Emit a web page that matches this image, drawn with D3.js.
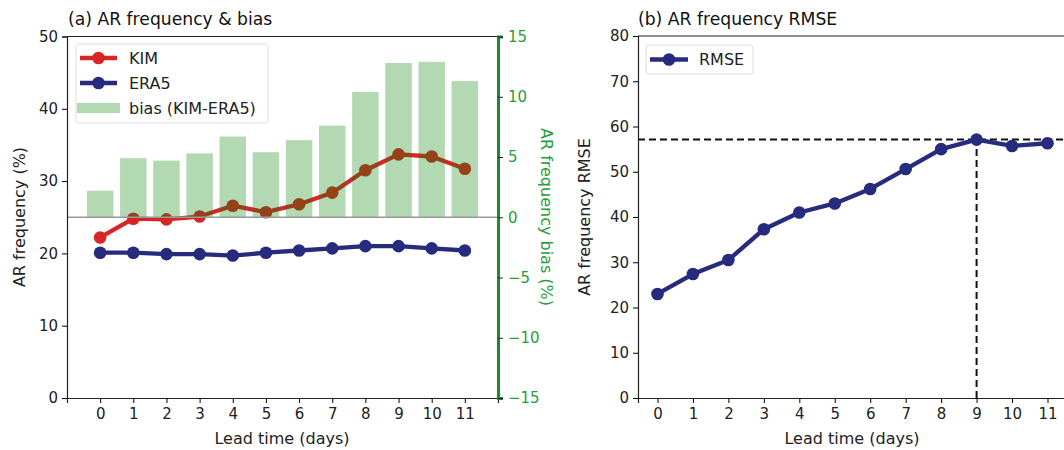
<!DOCTYPE html>
<html>
<head>
<meta charset="utf-8">
<script src="https://cdn.jsdelivr.net/npm/d3@7.9.0/dist/d3.min.js"></script>
<style>
  body { margin: 0; background: #fff; }
  svg text { font-family: "DejaVu Sans", sans-serif; }
  .tick text { font-size: 15px; fill: #222; }
</style>
</head>
<body>
<svg width="1064" height="450"></svg>
<script>
// lead times (days)
const leadDays = [0, 1, 2, 3, 4, 5, 6, 7, 8, 9, 10, 11];
// AR frequency (%)
const kim  = [22.2, 24.8, 24.7, 25.1, 26.6, 25.7, 26.8, 28.4, 31.5, 33.7, 33.4, 31.7];
const era5 = [20.1, 20.1, 19.9, 19.9, 19.7, 20.1, 20.4, 20.7, 21.0, 21.0, 20.7, 20.4];
// bias KIM - ERA5 (%)
const bias = [2.2, 4.9, 4.7, 5.3, 6.7, 5.4, 6.4, 7.6, 10.4, 12.8, 12.9, 11.3];
// RMSE
const rmse = [23.0, 27.4, 30.5, 37.3, 41.0, 43.0, 46.2, 50.6, 55.0, 57.1, 55.7, 56.3];

const leftTicks = [0, 10, 20, 30, 40, 50];
const biasTicks = [-15, -10, -5, 0, 5, 10, 15];
const rmseTicks = [0, 10, 20, 30, 40, 50, 60, 70, 80];

const red = '#d62728', navy = '#262b7e', green = '#1a8a34', greenTxt = '#2a9d3a';
const fs = 16, titleFs = 17.2;

const svg = d3.select('svg');

// ---------- panel (a) ----------
const x1 = d3.scaleLinear().domain([-1, 12]).range([67, 498]);
const y1 = d3.scaleLinear().domain([0, 50]).range([398, 36.5]);
const yb = d3.scaleLinear().domain([-15, 15]).range([398, 36.5]);

const a = svg.append('g');

let line1 = d3.line().x((d, i) => x1(leadDays[i])).y(d => y1(d));

[[era5, navy], [kim, red]].forEach(([vals, c]) => {
  a.append('path').attr('d', line1(vals)).attr('fill', 'none')
    .attr('stroke', c).attr('stroke-width', 4.3).attr('stroke-linejoin', 'round');
  a.selectAll(null).data(vals).enter().append('circle')
    .attr('cx', (d, i) => x1(leadDays[i])).attr('cy', d => y1(d))
    .attr('r', 6.3).attr('fill', c);
});

// bias bars on the twin axis, drawn on top with alpha
const bw = x1(0.8) - x1(0);
a.selectAll('rect.bias').data(bias).enter().append('rect')
  .attr('x', (d, i) => x1(leadDays[i]) - bw / 2)
  .attr('y', d => yb(Math.max(0, d)))
  .attr('width', bw)
  .attr('height', d => Math.abs(yb(d) - yb(0)))
  .attr('fill', 'green').attr('fill-opacity', 0.3);

a.append('line').attr('x1', x1(-1)).attr('x2', x1(12))
  .attr('y1', yb(0)).attr('y2', yb(0)).attr('stroke', '#999').attr('stroke-width', 1.5);

// axes
a.append('g').attr('transform', 'translate(67,0)')
  .call(d3.axisLeft(y1).tickValues(leftTicks).tickSize(5).tickPadding(4))
  .call(g => g.select('.domain').attr('stroke', '#222').attr('stroke-width', 1.2));
a.append('g').attr('transform', 'translate(0,398)')
  .call(d3.axisBottom(x1).tickValues(leadDays).tickSize(5).tickPadding(5))
  .call(g => g.select('.domain').attr('stroke', '#222').attr('stroke-width', 1.2));
a.append('line').attr('x1', 67).attr('x2', 498).attr('y1', 36.5).attr('y2', 36.5)
  .attr('stroke', '#222').attr('stroke-width', 1.2);
a.append('g').attr('transform', 'translate(498,0)')
  .call(d3.axisRight(yb).tickValues(biasTicks).tickSize(5).tickPadding(5)
    .tickFormat(d => d < 0 ? '\u2212' + Math.abs(d) : d))
  .call(g => g.select('.domain').attr('stroke', green).attr('stroke-width', 3))
  .call(g => g.selectAll('.tick line').attr('stroke', '#222'))
  .call(g => g.selectAll('.tick text').style('fill', greenTxt));

a.append('text').attr('x', 68).attr('y', 24.5).attr('font-size', titleFs).attr('fill', '#111')
  .text('(a) AR frequency & bias');
a.append('text').attr('transform', 'translate(25,217) rotate(-90)').attr('text-anchor', 'middle')
  .attr('font-size', fs).attr('fill', '#222').text('AR frequency (%)');
a.append('text').attr('transform', 'translate(541,217) rotate(90)').attr('text-anchor', 'middle')
  .attr('font-size', fs).attr('fill', greenTxt).text('AR frequency bias (%)');
a.append('text').attr('x', 282).attr('y', 444).attr('text-anchor', 'middle')
  .attr('font-size', fs).attr('fill', '#222').text('Lead time (days)');

// legend (a)
const lg = a.append('g');
lg.append('rect').attr('x', 76).attr('y', 44).attr('width', 192).attr('height', 79).attr('rx', 3)
  .attr('fill', '#fff').attr('fill-opacity', 0.8).attr('stroke', '#ddd');
[['KIM', red, 58], ['ERA5', navy, 83]].forEach(([t, c, yy]) => {
  lg.append('line').attr('x1', 80).attr('x2', 117).attr('y1', yy).attr('y2', yy)
    .attr('stroke', c).attr('stroke-width', 4.3);
  lg.append('circle').attr('cx', 98.5).attr('cy', yy).attr('r', 6.3).attr('fill', c);
  lg.append('text').attr('x', 129).attr('y', yy + 5.5).attr('font-size', fs).attr('fill', '#222').text(t);
});
lg.append('rect').attr('x', 77).attr('y', 103).attr('width', 43).attr('height', 10)
  .attr('fill', 'green').attr('fill-opacity', 0.3);
lg.append('text').attr('x', 129).attr('y', 113.5).attr('font-size', fs).attr('fill', '#222').text('bias (KIM-ERA5)');

// ---------- panel (b) ----------
const x2 = d3.scaleLinear().domain([-0.55, 11.55]).range([638, 1067]);
const y2 = d3.scaleLinear().domain([0, 80]).range([398, 36]);
const b = svg.append('g');

const rmseMax = d3.max(rmse);
const iMax = rmse.indexOf(rmseMax);
b.append('line').attr('x1', x2(-0.55)).attr('x2', x2(11.55)).attr('y1', y2(rmseMax)).attr('y2', y2(rmseMax))
  .attr('stroke', '#111').attr('stroke-width', 2).attr('stroke-dasharray', '7,4');
b.append('line').attr('x1', x2(leadDays[iMax])).attr('x2', x2(leadDays[iMax]))
  .attr('y1', y2(0)).attr('y2', y2(rmseMax))
  .attr('stroke', '#111').attr('stroke-width', 2).attr('stroke-dasharray', '7,4');

let line2 = d3.line().x((d, i) => x2(leadDays[i])).y(d => y2(d));
b.append('path').attr('d', line2(rmse)).attr('fill', 'none')
  .attr('stroke', navy).attr('stroke-width', 4.3).attr('stroke-linejoin', 'round');
b.selectAll(null).data(rmse).enter().append('circle')
  .attr('cx', (d, i) => x2(leadDays[i])).attr('cy', d => y2(d)).attr('r', 6.3).attr('fill', navy);

b.append('g').attr('transform', 'translate(638,0)')
  .call(d3.axisLeft(y2).tickValues(rmseTicks).tickSize(5).tickPadding(4))
  .call(g => g.select('.domain').attr('stroke', '#222').attr('stroke-width', 1.2));
b.append('g').attr('transform', 'translate(0,398)')
  .call(d3.axisBottom(x2).tickValues(leadDays).tickSize(5).tickPadding(5))
  .call(g => g.select('.domain').attr('stroke', '#222').attr('stroke-width', 1.2));
b.append('line').attr('x1', 638).attr('x2', 1067).attr('y1', 36).attr('y2', 36)
  .attr('stroke', '#222').attr('stroke-width', 1.2);

b.append('text').attr('x', 638).attr('y', 24.5).attr('font-size', titleFs).attr('fill', '#111')
  .text('(b) AR frequency RMSE');
b.append('text').attr('transform', 'translate(590,217) rotate(-90)').attr('text-anchor', 'middle')
  .attr('font-size', fs).attr('fill', '#222').text('AR frequency RMSE');
b.append('text').attr('x', 852).attr('y', 444).attr('text-anchor', 'middle')
  .attr('font-size', fs).attr('fill', '#222').text('Lead time (days)');

const lg2 = b.append('g');
lg2.append('rect').attr('x', 646).attr('y', 45).attr('width', 107).attr('height', 29).attr('rx', 3)
  .attr('fill', '#fff').attr('fill-opacity', 0.8).attr('stroke', '#ddd');
lg2.append('line').attr('x1', 650).attr('x2', 688).attr('y1', 59.5).attr('y2', 59.5)
  .attr('stroke', navy).attr('stroke-width', 4.3);
lg2.append('circle').attr('cx', 669).attr('cy', 59.5).attr('r', 6.3).attr('fill', navy);
lg2.append('text').attr('x', 699).attr('y', 65).attr('font-size', fs).attr('fill', '#222').text('RMSE');
</script>
</body>
</html>
